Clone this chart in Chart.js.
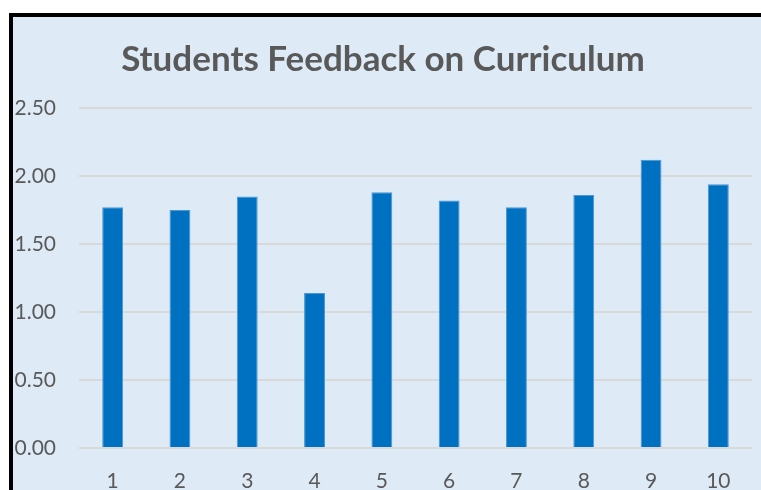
<!DOCTYPE html>
<html>
<head>
<meta charset="utf-8">
<script src="https://cdn.jsdelivr.net/npm/chart.js@4.4.1/dist/chart.umd.min.js"></script>
<style>
    html, body { margin: 0; padding: 0; background: #ffffff; overflow: hidden; width: 761px; height: 490px; }
    #frame {
        position: absolute;
        left: 9px;
        top: 13px;
        width: 748px;
        height: 500px;
        border-left: 4px solid #000000;
        border-top: 4px solid #000000;
        background: #deebf7;
    }
    #chart { display: block; }
</style>
</head>
<body>
<div id="frame">
    <canvas id="chart" width="748" height="500"></canvas>
</div>
<script>
// chart data
const categories = ['1', '2', '3', '4', '5', '6', '7', '8', '9', '10'];
const feedbackScores = [1.77, 1.75, 1.85, 1.14, 1.88, 1.82, 1.77, 1.86, 2.12, 1.94];
const yTicks = [0, 0.5, 1.0, 1.5, 2.0, 2.5];

const textColor = '#595959';
const fontFamily = 'Lato, "Open Sans", sans-serif';

const ctx = document.getElementById('chart').getContext('2d');

new Chart(ctx, {
    type: 'bar',
    data: {
        labels: categories,
        datasets: [{
            label: 'Feedback',
            data: feedbackScores,
            backgroundColor: '#0070c0',
            borderColor: '#4a96d6',
            borderWidth: 1,
            barPercentage: 0.31,
            categoryPercentage: 1.0
        }]
    },
    options: {
        responsive: false,
        animation: false,
        layout: {
            padding: { left: 1, right: 9, top: 0, bottom: 18 }
        },
        plugins: {
            legend: { display: false },
            tooltip: { enabled: false },
            title: {
                display: true,
                text: 'Students Feedback on Curriculum',
                color: textColor,
                font: { family: fontFamily, size: 35, weight: 'bold', lineHeight: 1.2 },
                padding: { top: 22, bottom: 27 }
            }
        },
        scales: {
            x: {
                grid: { display: false, drawTicks: false },
                border: { display: false },
                ticks: {
                    color: textColor,
                    font: { family: fontFamily, size: 21 },
                    padding: 21,
                    maxRotation: 0
                },
                afterFit: (scale) => { scale.height = 51; }
            },
            y: {
                min: 0,
                max: 2.5,
                afterBuildTicks: (scale) => {
                    scale.ticks = yTicks.map(v => ({ value: v }));
                },
                grid: { color: '#d9d9d9', lineWidth: 2, drawTicks: false },
                border: { display: false },
                ticks: {
                    color: textColor,
                    font: { family: fontFamily, size: 21 },
                    padding: 23,
                    callback: (v) => Number(v).toFixed(2)
                },
                afterFit: (scale) => { scale.width = 65; }
            }
        }
    }
});
</script>
</body>
</html>
